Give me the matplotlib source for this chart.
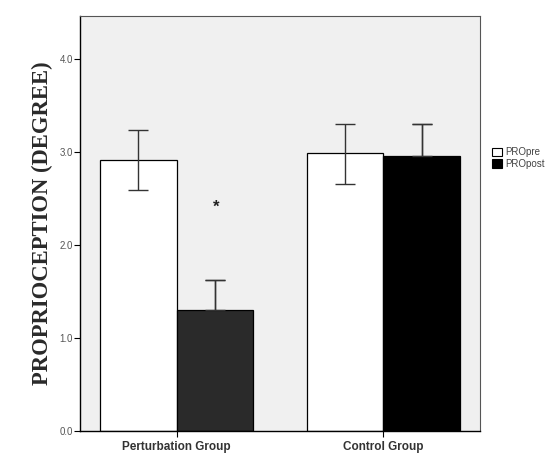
import matplotlib
matplotlib.use("Agg")
import matplotlib.pyplot as plt
import numpy as np
from matplotlib.patches import Patch

groups = ["Perturbation Group", "Control Group"]
series = ["PROpre", "PROpost"]
pre_means = [2.91, 2.99]
pre_err_hi = [3.24, 3.30]
pre_err_lo = [2.585, 2.65]
post_means = [1.305, 2.96]
post_err_hi = [1.62, 3.30]
yticks = [0.0, 1.0, 2.0, 3.0, 4.0]

fig = plt.figure(figsize=(5.53, 4.72), dpi=100)
ax = fig.add_axes([0.1447, 0.0869, 0.7233, 0.8792])
ax.set_facecolor("#f0f0f0")

x = np.arange(len(groups))
w = 0.37
pre_x = x - w / 2
post_x = x + w / 2

ax.bar(pre_x, pre_means, width=w, color="white", edgecolor="black", linewidth=0.9, zorder=2)
post_colors = ["#2a2a2a", "black"]
ax.bar(post_x, post_means, width=w, color=post_colors, edgecolor="black", linewidth=0.9, zorder=2)

pre_m = np.array(pre_means)
ax.errorbar(pre_x, pre_m,
            yerr=[pre_m - np.array(pre_err_lo), np.array(pre_err_hi) - pre_m],
            fmt="none", ecolor="#333333", elinewidth=1.0, capsize=7, capthick=1.0, zorder=3)
post_m = np.array(post_means)
post_hi = np.array(post_err_hi) - post_m
ax.errorbar(post_x, post_m, yerr=[post_hi, post_hi],
            fmt="none", ecolor="#333333", elinewidth=1.0, capsize=7, capthick=1.0, zorder=1)
ax.errorbar(post_x, post_m, yerr=[np.zeros_like(post_hi), post_hi],
            fmt="none", ecolor="#333333", elinewidth=1.0, capsize=7, capthick=1.0, zorder=3)

ax.text(post_x[0] + 0.005, 2.40, "*", ha="center", va="center", fontsize=12, fontweight="bold",
        color="#222222", family="Liberation Sans")

ax.set_xlim(-0.468, 1.468)
ax.set_ylim(0, 4.46)
ax.set_yticks(yticks)
ax.set_yticklabels([f"{v:.1f}" for v in yticks], family="Liberation Sans", fontsize=7, color="#555555")
ax.set_xticks(x)
ax.set_xticklabels(groups, family="Liberation Sans", fontsize=8.5, fontweight="bold", color="#333333")
ax.tick_params(axis="y", length=4, width=0.8, pad=1)
ax.tick_params(axis="x", length=4, width=0.8, pad=3)

for s in ["left", "bottom"]:
    ax.spines[s].set_color("black")
    ax.spines[s].set_linewidth(1.0)
for s in ["top", "right"]:
    ax.spines[s].set_color("#555555")
    ax.spines[s].set_linewidth(0.8)

ax.set_ylabel("PROPRIOCEPTION (DEGREE)", family="Liberation Serif", fontsize=16.3,
              fontweight="bold", color="#2a2a2a", labelpad=5)

handles = [Patch(facecolor="white", edgecolor="black", linewidth=0.8),
           Patch(facecolor="black", edgecolor="black", linewidth=0.8)]
fig.legend(handles, series, loc="upper left", bbox_to_anchor=(0.88, 0.70),
           frameon=False, prop={"family": "Liberation Sans", "size": 7},
           handlelength=1.0, handleheight=1.0, handletextpad=0.3, labelspacing=0.15,
           borderpad=0.1, labelcolor="#444444")

fig.savefig("out.png", dpi=100, facecolor="white")
